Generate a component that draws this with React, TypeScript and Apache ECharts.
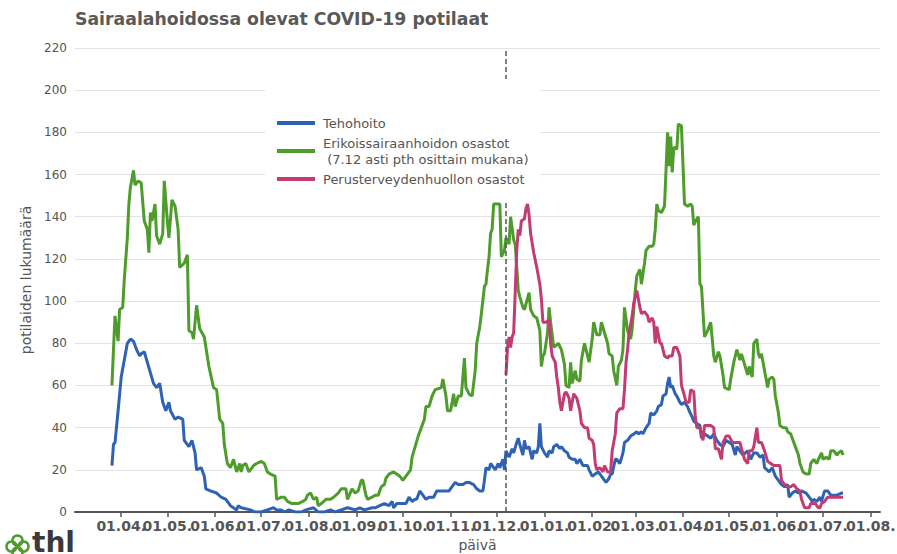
import React, { useEffect, useRef } from 'react';
import * as echarts from 'echarts';

const FONT = 'DejaVu Sans';
const TITLE = 'Sairaalahoidossa olevat COVID-19 potilaat';
const SERIES_NAMES = [
  'Tehohoito',
  'Erikoissairaanhoidon osastot\n (7.12 asti pth osittain mukana)',
  'Perusterveydenhuollon osastot',
];
const COLORS = ['#2e62b5', '#4e9c2c', '#c23b72'];
const X_NAME = 'päivä';
const Y_NAME = 'potilaiden lukumäärä';
const X_MIN = '2020-03-02';
const X_MAX = '2021-08-07';
const MARK_DATE = '2020-12-07';
const Y_MAX = 220;
const Y_STEP = 20;

const monthTicks = [
  '2020-04-01', '2020-05-01', '2020-06-01', '2020-07-01', '2020-08-01', '2020-09-01',
  '2020-10-01', '2020-11-01', '2020-12-01', '2021-01-01', '2021-02-01', '2021-03-01',
  '2021-04-01', '2021-05-01', '2021-06-01', '2021-07-01', '2021-08-01',
];

const tehohoito: [string, number][] = [
  ['2020-03-26', 22], ['2020-03-27', 32], ['2020-03-28', 33], ['2020-03-30', 48], ['2020-04-01', 64],
  ['2020-04-03', 72], ['2020-04-05', 80], ['2020-04-07', 82], ['2020-04-09', 81], ['2020-04-11', 77],
  ['2020-04-13', 74], ['2020-04-14', 75], ['2020-04-16', 76], ['2020-04-18', 71], ['2020-04-20', 66],
  ['2020-04-22', 61], ['2020-04-24', 59], ['2020-04-26', 61], ['2020-04-28', 52], ['2020-04-30', 48],
  ['2020-05-02', 52], ['2020-05-03', 48], ['2020-05-06', 44], ['2020-05-08', 45], ['2020-05-11', 44],
  ['2020-05-12', 34], ['2020-05-15', 31], ['2020-05-17', 34], ['2020-05-19', 28], ['2020-05-20', 20],
  ['2020-05-23', 21], ['2020-05-25', 17], ['2020-05-26', 11], ['2020-05-29', 10], ['2020-06-02', 9],
  ['2020-06-05', 7], ['2020-06-08', 6], ['2020-06-11', 3], ['2020-06-15', 1], ['2020-06-16', 3],
  ['2020-06-18', 2], ['2020-06-24', 1], ['2020-06-27', 0], ['2020-07-01', 0], ['2020-07-05', 1],
  ['2020-07-09', 2], ['2020-07-11', 1], ['2020-07-14', 1], ['2020-07-16', 0], ['2020-07-19', 1],
  ['2020-07-23', 0], ['2020-07-27', 0], ['2020-07-30', 1], ['2020-08-04', 2], ['2020-08-07', 0],
  ['2020-08-11', 0], ['2020-08-15', 1], ['2020-08-18', 0], ['2020-08-22', 1], ['2020-08-26', 2],
  ['2020-08-31', 1], ['2020-09-03', 2], ['2020-09-06', 1], ['2020-09-11', 2], ['2020-09-13', 2],
  ['2020-09-16', 3], ['2020-09-19', 4], ['2020-09-22', 3], ['2020-09-24', 5], ['2020-09-25', 2],
  ['2020-09-27', 4], ['2020-09-30', 4], ['2020-10-03', 4], ['2020-10-05', 7], ['2020-10-07', 5],
  ['2020-10-09', 6], ['2020-10-10', 6], ['2020-10-12', 10], ['2020-10-14', 8], ['2020-10-16', 6],
  ['2020-10-18', 7], ['2020-10-21', 7], ['2020-10-23', 10], ['2020-10-25', 10], ['2020-10-28', 10],
  ['2020-10-31', 10], ['2020-11-02', 12], ['2020-11-04', 14], ['2020-11-06', 13], ['2020-11-09', 13],
  ['2020-11-11', 14], ['2020-11-13', 14], ['2020-11-16', 13], ['2020-11-18', 11], ['2020-11-20', 10],
  ['2020-11-22', 10], ['2020-11-23', 15], ['2020-11-24', 21], ['2020-11-26', 20], ['2020-11-27', 23],
  ['2020-11-29', 21], ['2020-11-30', 20], ['2020-12-02', 23], ['2020-12-03', 21], ['2020-12-05', 25],
  ['2020-12-06', 20], ['2020-12-07', 29], ['2020-12-09', 26], ['2020-12-11', 30], ['2020-12-12', 28],
  ['2020-12-14', 33], ['2020-12-15', 35], ['2020-12-16', 32], ['2020-12-18', 27], ['2020-12-19', 34],
  ['2020-12-20', 30], ['2020-12-22', 31], ['2020-12-24', 25], ['2020-12-25', 29], ['2020-12-27', 28],
  ['2020-12-28', 31], ['2020-12-29', 42], ['2020-12-30', 31], ['2021-01-01', 28], ['2021-01-03', 26],
  ['2021-01-04', 29], ['2021-01-06', 28], ['2021-01-07', 31], ['2021-01-09', 32], ['2021-01-11', 30],
  ['2021-01-12', 31], ['2021-01-14', 29], ['2021-01-16', 28], ['2021-01-17', 26], ['2021-01-19', 25],
  ['2021-01-21', 25], ['2021-01-22', 23], ['2021-01-24', 25], ['2021-01-26', 22], ['2021-01-29', 22],
  ['2021-01-30', 20], ['2021-02-01', 17], ['2021-02-03', 18], ['2021-02-05', 19], ['2021-02-07', 17],
  ['2021-02-09', 15], ['2021-02-10', 14], ['2021-02-12', 16], ['2021-02-13', 18], ['2021-02-14', 18],
  ['2021-02-16', 25], ['2021-02-17', 25], ['2021-02-19', 23], ['2021-02-21', 28], ['2021-02-22', 33],
  ['2021-02-24', 34], ['2021-02-26', 36], ['2021-02-28', 37], ['2021-03-02', 38], ['2021-03-03', 37],
  ['2021-03-05', 38], ['2021-03-06', 37], ['2021-03-08', 40], ['2021-03-10', 42], ['2021-03-11', 47],
  ['2021-03-13', 46], ['2021-03-15', 48], ['2021-03-16', 50], ['2021-03-18', 51], ['2021-03-19', 55],
  ['2021-03-21', 56], ['2021-03-22', 61], ['2021-03-23', 64], ['2021-03-24', 59], ['2021-03-25', 60],
  ['2021-03-27', 56], ['2021-03-28', 55], ['2021-03-30', 52], ['2021-03-31', 51], ['2021-04-02', 52],
  ['2021-04-04', 50], ['2021-04-05', 48], ['2021-04-07', 45], ['2021-04-08', 43], ['2021-04-10', 42],
  ['2021-04-12', 41], ['2021-04-13', 35], ['2021-04-15', 37], ['2021-04-17', 36], ['2021-04-19', 35],
  ['2021-04-21', 37], ['2021-04-23', 34], ['2021-04-25', 32], ['2021-04-27', 31], ['2021-04-29', 34],
  ['2021-05-01', 33], ['2021-05-03', 32], ['2021-05-05', 27], ['2021-05-06', 31], ['2021-05-08', 29],
  ['2021-05-10', 27], ['2021-05-13', 29], ['2021-05-15', 25], ['2021-05-17', 28], ['2021-05-19', 28],
  ['2021-05-21', 26], ['2021-05-23', 27], ['2021-05-24', 21], ['2021-05-27', 19], ['2021-05-29', 21],
  ['2021-05-31', 17], ['2021-06-02', 15], ['2021-06-04', 13], ['2021-06-06', 12], ['2021-06-08', 13],
  ['2021-06-09', 7], ['2021-06-11', 9], ['2021-06-13', 10], ['2021-06-15', 9], ['2021-06-17', 10],
  ['2021-06-20', 9], ['2021-06-22', 7], ['2021-06-24', 5], ['2021-06-25', 6], ['2021-06-27', 5],
  ['2021-06-29', 7], ['2021-06-30', 5], ['2021-07-02', 10], ['2021-07-04', 10], ['2021-07-06', 8],
  ['2021-07-08', 8], ['2021-07-10', 8], ['2021-07-13', 9], ['2021-07-14', 9],
];

const erikoissairaanhoito: [string, number][] = [
  ['2020-03-26', 60], ['2020-03-27', 77], ['2020-03-28', 93], ['2020-03-30', 81], ['2020-03-31', 96],
  ['2020-04-02', 97], ['2020-04-03', 110], ['2020-04-05', 130], ['2020-04-06', 146], ['2020-04-07', 154],
  ['2020-04-09', 162], ['2020-04-10', 155], ['2020-04-12', 157], ['2020-04-14', 156], ['2020-04-16', 138],
  ['2020-04-18', 134], ['2020-04-19', 123], ['2020-04-20', 142], ['2020-04-21', 138], ['2020-04-23', 146],
  ['2020-04-24', 131], ['2020-04-26', 127], ['2020-04-28', 132], ['2020-04-29', 157], ['2020-05-01', 138],
  ['2020-05-02', 130], ['2020-05-04', 148], ['2020-05-06', 145], ['2020-05-08', 134], ['2020-05-09', 116],
  ['2020-05-12', 118], ['2020-05-14', 122], ['2020-05-15', 86], ['2020-05-17', 85], ['2020-05-18', 82],
  ['2020-05-20', 98], ['2020-05-22', 87], ['2020-05-25', 83], ['2020-05-28', 69], ['2020-05-31', 59],
  ['2020-06-02', 58], ['2020-06-04', 44], ['2020-06-06', 42], ['2020-06-07', 32], ['2020-06-09', 23],
  ['2020-06-11', 21], ['2020-06-13', 25], ['2020-06-15', 19], ['2020-06-17', 23], ['2020-06-18', 19],
  ['2020-06-19', 22], ['2020-06-21', 23], ['2020-06-23', 19], ['2020-06-26', 22], ['2020-06-28', 23],
  ['2020-07-01', 24], ['2020-07-03', 23], ['2020-07-05', 19], ['2020-07-07', 18], ['2020-07-10', 17],
  ['2020-07-11', 6], ['2020-07-14', 7], ['2020-07-16', 7], ['2020-07-18', 5], ['2020-07-21', 4],
  ['2020-07-25', 4], ['2020-07-28', 5], ['2020-07-30', 6], ['2020-07-31', 8], ['2020-08-02', 9],
  ['2020-08-04', 6], ['2020-08-06', 7], ['2020-08-07', 3], ['2020-08-09', 4], ['2020-08-12', 6],
  ['2020-08-15', 6], ['2020-08-17', 7], ['2020-08-20', 9], ['2020-08-22', 11], ['2020-08-25', 11],
  ['2020-08-26', 6], ['2020-08-29', 11], ['2020-08-31', 9], ['2020-09-02', 10], ['2020-09-04', 15],
  ['2020-09-05', 15], ['2020-09-07', 8], ['2020-09-08', 6], ['2020-09-11', 7], ['2020-09-13', 8],
  ['2020-09-15', 8], ['2020-09-17', 12], ['2020-09-19', 13], ['2020-09-20', 16], ['2020-09-22', 18],
  ['2020-09-25', 19], ['2020-09-27', 18], ['2020-09-29', 17], ['2020-10-01', 15], ['2020-10-03', 17],
  ['2020-10-06', 20], ['2020-10-07', 26], ['2020-10-09', 31], ['2020-10-11', 36], ['2020-10-13', 40],
  ['2020-10-15', 44], ['2020-10-16', 50], ['2020-10-18', 50], ['2020-10-20', 55], ['2020-10-22', 58],
  ['2020-10-26', 59], ['2020-10-27', 63], ['2020-10-29', 55], ['2020-10-30', 48], ['2020-11-01', 48],
  ['2020-11-03', 56], ['2020-11-04', 50], ['2020-11-06', 55], ['2020-11-08', 55], ['2020-11-10', 73],
  ['2020-11-11', 59], ['2020-11-13', 56], ['2020-11-15', 55], ['2020-11-17', 67], ['2020-11-18', 80],
  ['2020-11-20', 88], ['2020-11-21', 94], ['2020-11-23', 107], ['2020-11-24', 108], ['2020-11-25', 115],
  ['2020-11-26', 121], ['2020-11-27', 132], ['2020-11-28', 134], ['2020-11-29', 146], ['2020-12-01', 146],
  ['2020-12-03', 146], ['2020-12-04', 121], ['2020-12-06', 124], ['2020-12-07', 130], ['2020-12-09', 127],
  ['2020-12-10', 140], ['2020-12-12', 129], ['2020-12-13', 127], ['2020-12-15', 105], ['2020-12-16', 102],
  ['2020-12-18', 97], ['2020-12-19', 96], ['2020-12-22', 104], ['2020-12-23', 96], ['2020-12-25', 93],
  ['2020-12-27', 92], ['2020-12-29', 86], ['2020-12-30', 69], ['2020-12-31', 74], ['2021-01-01', 75],
  ['2021-01-03', 85], ['2021-01-04', 97], ['2021-01-05', 90], ['2021-01-07', 78], ['2021-01-10', 80],
  ['2021-01-12', 77], ['2021-01-14', 70], ['2021-01-15', 60], ['2021-01-17', 59], ['2021-01-18', 71],
  ['2021-01-19', 61], ['2021-01-21', 67], ['2021-01-22', 63], ['2021-01-24', 62], ['2021-01-25', 72],
  ['2021-01-27', 80], ['2021-01-29', 74], ['2021-01-30', 71], ['2021-02-01', 82], ['2021-02-02', 90],
  ['2021-02-04', 84], ['2021-02-06', 84], ['2021-02-07', 90], ['2021-02-09', 85], ['2021-02-11', 80],
  ['2021-02-12', 75], ['2021-02-14', 74], ['2021-02-15', 67], ['2021-02-17', 60], ['2021-02-18', 69],
  ['2021-02-20', 72], ['2021-02-21', 77], ['2021-02-22', 97], ['2021-02-24', 86], ['2021-02-26', 82],
  ['2021-02-27', 87], ['2021-03-01', 105], ['2021-03-02', 112], ['2021-03-04', 115], ['2021-03-05', 108],
  ['2021-03-07', 118], ['2021-03-08', 124], ['2021-03-10', 126], ['2021-03-12', 126], ['2021-03-13', 127],
  ['2021-03-14', 134], ['2021-03-15', 146], ['2021-03-16', 143], ['2021-03-18', 142], ['2021-03-20', 145],
  ['2021-03-22', 180], ['2021-03-23', 164], ['2021-03-24', 178], ['2021-03-25', 161], ['2021-03-26', 173],
  ['2021-03-28', 172], ['2021-03-29', 184], ['2021-03-31', 183], ['2021-04-02', 146], ['2021-04-04', 145],
  ['2021-04-06', 146], ['2021-04-07', 145], ['2021-04-08', 136], ['2021-04-10', 139], ['2021-04-11', 140],
  ['2021-04-12', 108], ['2021-04-13', 107], ['2021-04-15', 83], ['2021-04-17', 86], ['2021-04-19', 90],
  ['2021-04-21', 74], ['2021-04-22', 71], ['2021-04-24', 76], ['2021-04-25', 74], ['2021-04-27', 65],
  ['2021-04-28', 59], ['2021-05-01', 58], ['2021-05-02', 63], ['2021-05-04', 71], ['2021-05-06', 77],
  ['2021-05-08', 72], ['2021-05-09', 75], ['2021-05-11', 70], ['2021-05-13', 65], ['2021-05-14', 69],
  ['2021-05-16', 64], ['2021-05-17', 80], ['2021-05-19', 82], ['2021-05-20', 75], ['2021-05-21', 73],
  ['2021-05-22', 75], ['2021-05-24', 67], ['2021-05-26', 59], ['2021-05-27', 63], ['2021-05-29', 64],
  ['2021-05-30', 63], ['2021-05-31', 55], ['2021-06-02', 47], ['2021-06-03', 41], ['2021-06-05', 40],
  ['2021-06-07', 40], ['2021-06-08', 38], ['2021-06-10', 37], ['2021-06-12', 33], ['2021-06-13', 31],
  ['2021-06-15', 27], ['2021-06-16', 23], ['2021-06-18', 19], ['2021-06-20', 18], ['2021-06-22', 18],
  ['2021-06-23', 23], ['2021-06-25', 25], ['2021-06-27', 23], ['2021-06-28', 25], ['2021-06-30', 28],
  ['2021-07-01', 25], ['2021-07-03', 26], ['2021-07-05', 25], ['2021-07-06', 29], ['2021-07-08', 29],
  ['2021-07-10', 27], ['2021-07-11', 28], ['2021-07-13', 29], ['2021-07-14', 27],
];

const perusterveydenhuolto: [string, number][] = [
  ['2020-12-07', 65], ['2020-12-08', 78], ['2020-12-09', 83], ['2020-12-10', 78], ['2020-12-11', 83],
  ['2020-12-12', 85], ['2020-12-13', 104], ['2020-12-14', 124], ['2020-12-15', 134], ['2020-12-16', 131],
  ['2020-12-17', 138], ['2020-12-19', 139], ['2020-12-20', 144], ['2020-12-21', 146], ['2020-12-22', 141],
  ['2020-12-23', 132], ['2020-12-25', 123], ['2020-12-27', 116], ['2020-12-29', 108], ['2020-12-30', 101],
  ['2020-12-31', 90], ['2021-01-02', 90], ['2021-01-04', 91], ['2021-01-05', 80], ['2021-01-06', 74],
  ['2021-01-08', 71], ['2021-01-09', 64], ['2021-01-10', 59], ['2021-01-11', 52], ['2021-01-12', 48],
  ['2021-01-14', 56], ['2021-01-15', 57], ['2021-01-17', 54], ['2021-01-18', 48], ['2021-01-20', 56],
  ['2021-01-22', 54], ['2021-01-24', 48], ['2021-01-25', 42], ['2021-01-27', 40], ['2021-01-29', 40],
  ['2021-01-30', 35], ['2021-02-01', 34], ['2021-02-02', 32], ['2021-02-03', 23], ['2021-02-04', 20],
  ['2021-02-06', 21], ['2021-02-08', 19], ['2021-02-09', 22], ['2021-02-11', 19], ['2021-02-13', 19],
  ['2021-02-14', 29], ['2021-02-16', 37], ['2021-02-17', 47], ['2021-02-19', 49], ['2021-02-21', 49],
  ['2021-02-22', 58], ['2021-02-23', 71], ['2021-02-24', 77], ['2021-02-25', 85], ['2021-02-27', 93],
  ['2021-02-28', 99], ['2021-03-02', 105], ['2021-03-03', 101], ['2021-03-04', 97], ['2021-03-05', 94],
  ['2021-03-07', 95], ['2021-03-09', 93], ['2021-03-10', 90], ['2021-03-12', 92], ['2021-03-13', 90],
  ['2021-03-14', 80], ['2021-03-15', 88], ['2021-03-17', 80], ['2021-03-18', 80], ['2021-03-20', 74],
  ['2021-03-22', 73], ['2021-03-23', 74], ['2021-03-25', 74], ['2021-03-26', 78], ['2021-03-28', 78],
  ['2021-03-30', 74], ['2021-03-31', 60], ['2021-04-02', 55], ['2021-04-03', 52], ['2021-04-05', 52],
  ['2021-04-06', 58], ['2021-04-08', 57], ['2021-04-09', 45], ['2021-04-10', 40], ['2021-04-12', 40],
  ['2021-04-14', 34], ['2021-04-15', 41], ['2021-04-19', 41], ['2021-04-21', 40], ['2021-04-22', 30],
  ['2021-04-24', 30], ['2021-04-26', 25], ['2021-04-27', 33], ['2021-04-29', 36], ['2021-05-01', 36],
  ['2021-05-03', 33], ['2021-05-06', 33], ['2021-05-08', 33], ['2021-05-09', 30], ['2021-05-11', 25],
  ['2021-05-13', 23], ['2021-05-14', 29], ['2021-05-16', 29], ['2021-05-17', 31], ['2021-05-19', 40],
  ['2021-05-20', 33], ['2021-05-22', 33], ['2021-05-24', 29], ['2021-05-26', 24], ['2021-05-28', 23],
  ['2021-05-30', 22], ['2021-06-01', 22], ['2021-06-03', 22], ['2021-06-04', 15], ['2021-06-06', 13],
  ['2021-06-08', 12], ['2021-06-10', 12], ['2021-06-12', 13], ['2021-06-14', 11], ['2021-06-16', 10],
  ['2021-06-17', 6], ['2021-06-19', 2], ['2021-06-22', 2], ['2021-06-23', 4], ['2021-06-26', 4],
  ['2021-06-28', 2], ['2021-06-29', 2], ['2021-06-30', 4], ['2021-07-02', 5], ['2021-07-04', 7],
  ['2021-07-08', 7], ['2021-07-12', 7], ['2021-07-14', 7],
];

function ts(s: string): number {
  const [y, m, d] = s.split('-').map(Number);
  return new Date(y, m - 1, d).getTime();
}

function toData(rows: [string, number][]) {
  return rows.map(([d, v]) => [ts(d), v]);
}

export default function App() {
  const ref = useRef<HTMLDivElement>(null);

  useEffect(() => {
    if (!ref.current) return;
    const chart = echarts.init(ref.current, null, { renderer: 'svg' });
    const tickValues = monthTicks.map(ts);
    const tickSet = new Set(tickValues);
    // Empty placeholder entries at both ends, so that the axis' min/max label
    // handling acts on them instead of hiding the real month labels.
    const paddedValues = [ts(X_MIN), ...tickValues, ts(X_MAX)];
    const gray = '#555555';

    const lineSeries = (name: string, rows: [string, number][], color: string, extra: any = {}) => ({
      name,
      type: 'line',
      data: toData(rows),
      showSymbol: false,
      symbol: 'none',
      z: 2,
      lineStyle: { color, width: 3 },
      itemStyle: { color },
      emphasis: { disabled: true },
      ...extra,
    });

    chart.setOption({
      animation: false,
      backgroundColor: '#ffffff',
      textStyle: { fontFamily: FONT },
      title: {
        text: TITLE,
        left: 70,
        top: 5,
        textStyle: { fontFamily: FONT, fontSize: 17.3, fontWeight: 'bold', color: '#595959' },
      },
      grid: { left: 75, right: 17, top: 48, bottom: 42, containLabel: false, outerBoundsMode: 'none' },
      legend: {
        orient: 'vertical',
        left: 265,
        top: 79,
        z: 50,
        padding: [36, 12, 15, 12],
        itemGap: 4,
        itemWidth: 38,
        itemHeight: 4,
        icon: 'rect',
        backgroundColor: '#ffffff',
        borderWidth: 0,
        selectedMode: false,
        data: SERIES_NAMES,
        textStyle: { fontFamily: FONT, fontSize: 13, color: gray, lineHeight: 16, padding: [0, 0, 0, 3] },
      },
      xAxis: {
        type: 'value',
        min: ts(X_MIN),
        max: ts(X_MAX),
        name: X_NAME,
        nameLocation: 'middle',
        nameGap: 25,
        nameTextStyle: { fontFamily: FONT, fontSize: 14, color: gray },
        axisLine: { show: true, lineStyle: { color: gray, width: 2 } },
        axisTick: { show: true, customValues: paddedValues, length: 5, lineStyle: { color: gray, width: 1.5 } },
        axisLabel: {
          customValues: paddedValues,
          hideOverlap: false,
          showMinLabel: false,
          showMaxLabel: false,
          margin: 7,
          fontFamily: FONT,
          fontSize: 14,
          fontWeight: 'bold',
          color: gray,
          formatter: (val: number) => {
            if (!tickSet.has(val)) return '';
            const d = new Date(val);
            return '01.' + String(d.getMonth() + 1).padStart(2, '0') + '.';
          },
        },
        splitLine: { show: false },
      },
      yAxis: {
        type: 'value',
        min: 0,
        max: Y_MAX,
        interval: Y_STEP,
        name: Y_NAME,
        nameLocation: 'middle',
        nameGap: 31,
        nameTextStyle: { fontFamily: FONT, fontSize: 14, color: gray },
        axisLine: { show: false },
        axisTick: { show: false },
        axisLabel: { fontFamily: FONT, fontSize: 12, color: gray, margin: 8 },
        splitLine: { show: true, lineStyle: { color: '#e3e3e3', width: 1 } },
      },
      series: [
        lineSeries(SERIES_NAMES[0], tehohoito, COLORS[0], {
          markLine: {
            silent: true,
            symbol: 'none',
            z: 3,
            label: { show: false },
            lineStyle: { type: [5, 3], color: gray, width: 1.5 },
            data: [{ xAxis: ts(MARK_DATE) }],
          },
        }),
        lineSeries(SERIES_NAMES[1], erikoissairaanhoito, COLORS[1]),
        lineSeries(SERIES_NAMES[2], perusterveydenhuolto, COLORS[2]),
      ],
      graphic: [
        {
          type: 'group',
          left: 4,
          top: 533,
          children: [
            { type: 'circle', shape: { cx: 12, cy: 6, r: 5 }, style: { fill: 'none', stroke: '#4e9c2c', lineWidth: 2.5 } },
            { type: 'circle', shape: { cx: 6, cy: 12, r: 5 }, style: { fill: 'none', stroke: '#4e9c2c', lineWidth: 2.5 } },
            { type: 'circle', shape: { cx: 18, cy: 12, r: 5 }, style: { fill: 'none', stroke: '#4e9c2c', lineWidth: 2.5 } },
            { type: 'circle', shape: { cx: 12, cy: 18, r: 5 }, style: { fill: 'none', stroke: '#4e9c2c', lineWidth: 2.5 } },
          ],
        },
        {
          type: 'text',
          left: 32,
          top: 528,
          style: { text: 'thl', fontFamily: FONT, fontSize: 28, fontWeight: 'bold', fill: '#3a3a3a' },
        },
      ],
    } as any);

    return () => chart.dispose();
  }, []);

  return (
    <div
      ref={ref}
      style={{ position: 'fixed', left: 0, top: 0, width: 897, height: 554, background: '#fff' }}
    />
  );
}
